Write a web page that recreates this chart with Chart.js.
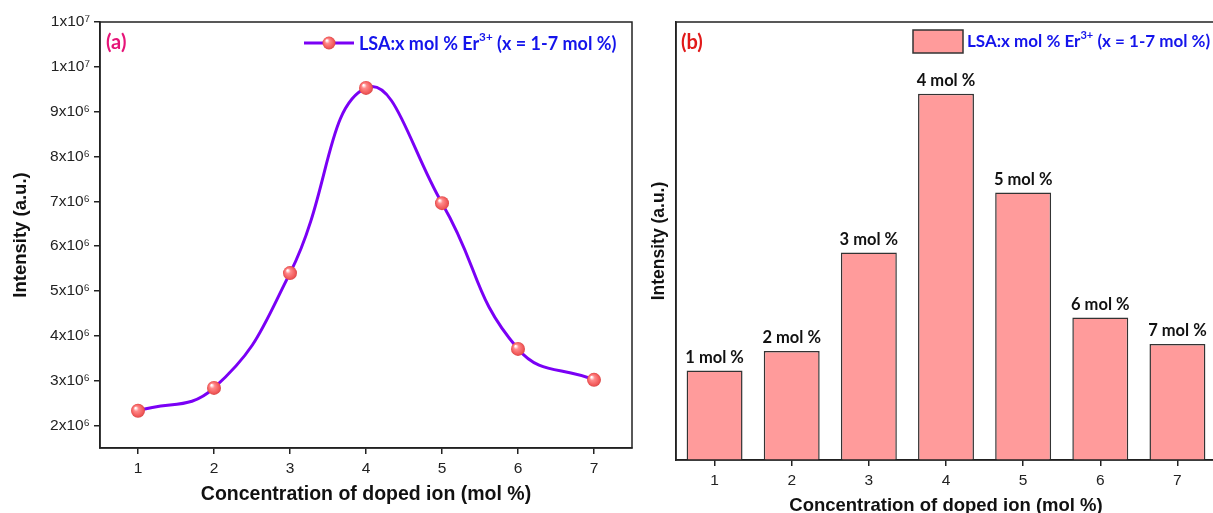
<!DOCTYPE html>
<html lang="en">
<head>
  <meta charset="UTF-8">
  <title>Intensity vs concentration of doped ion</title>
  <script src="https://cdn.jsdelivr.net/npm/chart.js"></script>
  <style>
    html, body { margin: 0; padding: 0; background: #fff; overflow: hidden; }
    #wrapA { position: absolute; left: 0; top: 0; width: 640px; height: 513px; }
    #wrapB { position: absolute; left: 640px; top: 0; width: 580px; height: 520px; }
  </style>
</head>
<body>
  <div id="wrapA"><canvas id="chartA"></canvas></div>
  <div id="wrapB"><canvas id="chartB"></canvas></div>

  <script>
    // values
    const concentrations = ['1', '2', '3', '4', '5', '6', '7'];
    const intensity = [2.33e6, 2.84e6, 5.40e6, 9.53e6, 6.96e6, 3.71e6, 3.02e6];
    const barLabels = ['1 mol %', '2 mol %', '3 mol %', '4 mol %', '5 mol %', '6 mol %', '7 mol %'];
    const yTickValues = [2e6, 3e6, 4e6, 5e6, 6e6, 7e6, 8e6, 9e6, 1e7, 1.1e7];
    const yTickLabels = ['2x10⁶', '3x10⁶', '4x10⁶', '5x10⁶', '6x10⁶', '7x10⁶', '8x10⁶', '9x10⁶', '1x10⁷', '1x10⁷'];
    const legendParts = [
      { t: 'LSA:x mol % Er' },
      { t: '3+', sup: true },
      { t: ' (x = 1-7 mol %)' }
    ];

    const LINE_COLOR = 'rgb(122, 0, 245)';
    const BAR_COLOR = 'rgb(255, 155, 155)';
    const LEGEND_BLUE = 'rgb(20, 20, 235)';
    const AXIS_FONT = "'Liberation Sans', Arial, sans-serif";
    const LABEL_FONT = "Lato, 'Open Sans', sans-serif";

    function sphere(ctx, x, y, r) {
      const g = ctx.createRadialGradient(x - r * 0.35, y - r * 0.4, r * 0.1, x, y, r);
      g.addColorStop(0, '#ffffff');
      g.addColorStop(0.3, '#ff8a8a');
      g.addColorStop(0.8, '#f25a5a');
      g.addColorStop(1, '#d94848');
      ctx.fillStyle = g;
      ctx.beginPath();
      ctx.arc(x, y, r, 0, Math.PI * 2);
      ctx.fill();
    }

    // text with a raised "3+"
    function drawRich(ctx, x, y, parts, size) {
      let cx = x;
      parts.forEach(p => {
        const s = p.sup ? size * 0.65 : size;
        ctx.font = 'bold ' + s + 'px ' + LABEL_FONT;
        ctx.fillText(p.t, cx, p.sup ? y - size * 0.38 : y);
        cx += ctx.measureText(p.t).width;
      });
    }

    function frame(ctx, area) {
      ctx.save();
      ctx.strokeStyle = '#222';
      ctx.lineWidth = 1.5;
      ctx.strokeRect(area.left, area.top, area.right - area.left, area.bottom - area.top);
      ctx.restore();
    }

    const decorA = {
      id: 'decorA',
      afterDatasetsDraw(chart) {
        const ctx = chart.ctx;
        frame(ctx, chart.chartArea);
        ctx.save();
        ctx.textBaseline = 'middle';
        ctx.fillStyle = 'rgb(230, 20, 120)';
        ctx.font = 'bold 20px ' + LABEL_FONT;
        ctx.fillText('(a)', 106, 43);
        // legend
        ctx.strokeStyle = LINE_COLOR;
        ctx.lineWidth = 3;
        ctx.beginPath();
        ctx.moveTo(304, 43);
        ctx.lineTo(354, 43);
        ctx.stroke();
        sphere(ctx, 329, 43, 6.5);
        ctx.fillStyle = LEGEND_BLUE;
        drawRich(ctx, 359, 44, legendParts, 18);
        ctx.restore();
      }
    };

    const decorB = {
      id: 'decorB',
      afterDatasetsDraw(chart) {
        const ctx = chart.ctx;
        frame(ctx, chart.chartArea);
        ctx.save();
        ctx.textBaseline = 'middle';
        ctx.fillStyle = 'rgb(225, 25, 25)';
        ctx.font = 'bold 20px ' + LABEL_FONT;
        ctx.fillText('(b)', 41, 43);
        // legend
        ctx.fillStyle = BAR_COLOR;
        ctx.fillRect(273, 30, 50, 23);
        ctx.strokeStyle = '#333';
        ctx.lineWidth = 1.5;
        ctx.strokeRect(273, 30, 50, 23);
        ctx.fillStyle = LEGEND_BLUE;
        drawRich(ctx, 327, 42, legendParts, 17);
        // bar labels
        const meta = chart.getDatasetMeta(0);
        ctx.fillStyle = '#111';
        ctx.font = 'bold 16.5px ' + LABEL_FONT;
        ctx.textAlign = 'center';
        ctx.textBaseline = 'bottom';
        meta.data.forEach((bar, i) => {
          ctx.fillText(barLabels[i], bar.x, bar.y - 5);
        });
        ctx.restore();
      }
    };

    const tickGrid = { display: true, drawOnChartArea: false, drawTicks: true, tickLength: 6, color: '#222', lineWidth: 1.5, offset: false };
    const axisBorder = { display: true, color: '#222', width: 1.5 };

    new Chart(document.getElementById('chartA'), {
      type: 'line',
      data: {
        labels: concentrations,
        datasets: [{
          data: intensity,
          borderColor: LINE_COLOR,
          borderWidth: 3,
          tension: 0.45,
          pointRadius: 7,
          pointBorderWidth: 0,
          pointStyle: 'circle',
          pointBackgroundColor: c => {
            const el = c.element;
            if (!el || el.x === undefined) return '#f25a5a';
            const g = c.chart.ctx.createRadialGradient(el.x - 2.5, el.y - 2.8, 0.6, el.x, el.y, 7);
            g.addColorStop(0, '#ffffff');
            g.addColorStop(0.3, '#ff8a8a');
            g.addColorStop(0.8, '#f25a5a');
            g.addColorStop(1, '#d94848');
            return g;
          }
        }]
      },
      options: {
        responsive: true,
        maintainAspectRatio: false,
        animation: false,
        layout: { padding: { left: 6, top: 22, right: 8, bottom: 3 } },
        plugins: { legend: { display: false }, tooltip: { enabled: false } },
        scales: {
          x: {
            type: 'category',
            offset: true,
            grid: tickGrid,
            border: axisBorder,
            ticks: { color: '#222', font: { family: AXIS_FONT, size: 15.5 }, padding: 5 },
            title: { display: true, text: 'Concentration of doped ion (mol %)', color: '#111',
              font: { family: AXIS_FONT, size: 19.5, weight: 'bold' }, padding: { top: 2, bottom: 4 } },
            afterFit: s => { s.height = 62; }
          },
          y: {
            min: 1.5e6,
            max: 1.1e7,
            grid: tickGrid,
            border: axisBorder,
            afterBuildTicks: s => { s.ticks = yTickValues.map(v => ({ value: v })); },
            ticks: {
              color: '#222',
              font: { family: AXIS_FONT, size: 15.5 },
              padding: 4,
              callback: v => yTickLabels[yTickValues.indexOf(v)]
            },
            title: { display: true, text: 'Intensity (a.u.)', color: '#111',
              font: { family: AXIS_FONT, size: 18.5, weight: 'bold' }, padding: { top: 4, bottom: 4 } },
            afterFit: s => { s.width = 94; }
          }
        }
      },
      plugins: [decorA]
    });

    new Chart(document.getElementById('chartB'), {
      type: 'bar',
      data: {
        labels: concentrations,
        datasets: [{
          data: intensity,
          backgroundColor: BAR_COLOR,
          borderColor: '#333',
          borderWidth: 1.5,
          barPercentage: 0.725,
          categoryPercentage: 1
        }]
      },
      options: {
        responsive: true,
        maintainAspectRatio: false,
        animation: false,
        layout: { padding: { left: 5, top: 22, right: 4, bottom: 0 } },
        plugins: { legend: { display: false }, tooltip: { enabled: false } },
        scales: {
          x: {
            type: 'category',
            offset: true,
            grid: tickGrid,
            border: axisBorder,
            ticks: { color: '#222', font: { family: AXIS_FONT, size: 15.5 }, padding: 5 },
            title: { display: true, text: 'Concentration of doped ion (mol %)', color: '#111',
              font: { family: AXIS_FONT, size: 18.5, weight: 'bold' }, padding: { top: 0, bottom: 3 } },
            afterFit: s => { s.height = 60; }
          },
          y: {
            min: 0,
            max: 1.14e7,
            grid: { display: false },
            border: axisBorder,
            ticks: { display: false },
            title: { display: true, text: 'Intensity (a.u.)', color: '#111',
              font: { family: AXIS_FONT, size: 17.5, weight: 'bold' }, padding: { top: 4, bottom: 4 } },
            afterFit: s => { s.width = 31; }
          }
        }
      },
      plugins: [decorB]
    });
  </script>
</body>
</html>
